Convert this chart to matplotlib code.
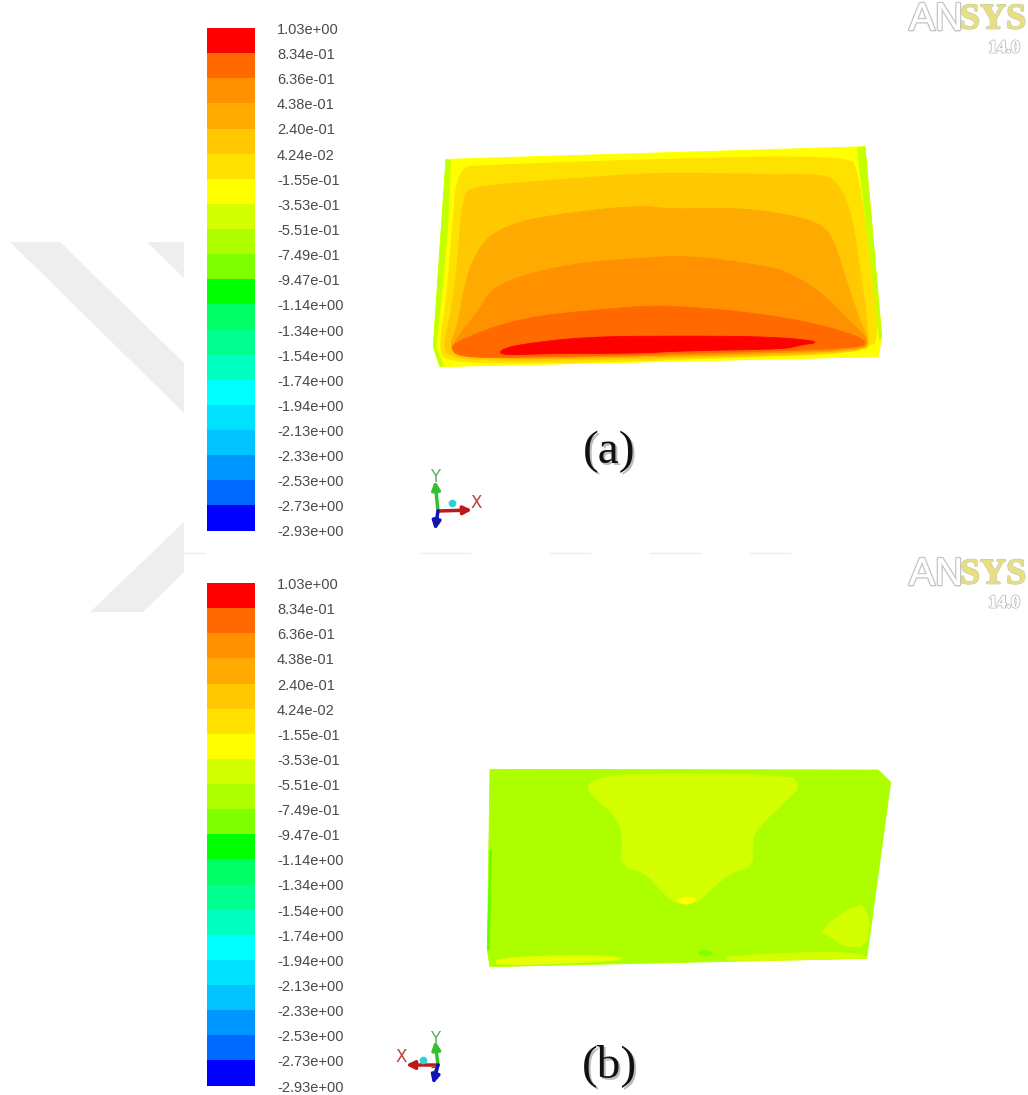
import matplotlib
matplotlib.use("Agg")
import matplotlib.pyplot as plt
import matplotlib.patheffects as pe

# contour legend, top to bottom
level_labels = ["1.03e+00", "8.34e-01", "6.36e-01", "4.38e-01", "2.40e-01", "4.24e-02", "-1.55e-01",
                "-3.53e-01", "-5.51e-01", "-7.49e-01", "-9.47e-01", "-1.14e+00", "-1.34e+00", "-1.54e+00",
                "-1.74e+00", "-1.94e+00", "-2.13e+00", "-2.33e+00", "-2.53e+00", "-2.73e+00", "-2.93e+00"]
band_colors = ["#ff0000", "#ff6900", "#ff9000", "#ffaa00", "#ffc800", "#ffe100", "#ffff00", "#d4ff00", "#adff00",
               "#80ff00", "#00ff00", "#00ff66", "#00ff90", "#00ffc0", "#00ffff", "#00e1ff", "#00c3ff", "#0096ff",
               "#0069ff", "#0000ff"]

a_outline = [(78, 88), (1335, 50), (1385, 620), (1375, 680), (60, 710), (40, 650)]
a_left = [(78, 88), (92, 92), (82, 300), (66, 480), (48, 650), (70, 708), (60, 710), (40, 650)]
a_right = [(1312, 54), (1335, 50), (1385, 620), (1378, 630), (1352, 400)]
a_ffe = [(112, 112), (200, 106), (700, 88), (1285, 76), (1315, 125), (1350, 400), (1375, 600), (1355, 665),
         (700, 692), (300, 700), (75, 695), (58, 650), (80, 500), (97, 300)]
a_ffc = [(128, 188), (180, 168), (430, 148), (700, 128), (1000, 133), (1205, 132), (1255, 158), (1295, 250),
         (1325, 450), (1347, 622), (1340, 670), (800, 683), (300, 693), (95, 685), (68, 650), (92, 560), (113, 400)]
a_ffa = [(90, 640), (113, 590), (133, 470), (158, 390), (203, 318), (300, 273), (450, 248), (660, 226), (750, 238),
         (900, 233), (1050, 243), (1205, 278), (1245, 340), (1275, 440), (1315, 560), (1345, 627), (1335, 664),
         (800, 678), (300, 688), (105, 677)]
a_ff9 = [(98, 640), (178, 540), (213, 478), (300, 438), (450, 403), (600, 388), (810, 376), (1000, 403), (1100, 423),
         (1205, 488), (1295, 580), (1345, 627), (1330, 660), (800, 675), (300, 684), (105, 675)]
a_ff6 = [(90, 650), (128, 628), (228, 588), (350, 558), (500, 543), (700, 525), (900, 538), (1100, 563), (1250, 598),
         (1340, 630), (1325, 655), (800, 670), (300, 682), (115, 682)]
a_red = [(240, 660), (300, 643), (500, 620), (800, 618), (1050, 620), (1210, 635), (1130, 647), (1100, 657),
         (800, 662), (650, 670), (400, 670), (245, 676)]

b_outline = [(60, 58), (1225, 60), (1262, 97), (1190, 625), (60, 650), (52, 600)]
b_center = [(350, 110), (380, 85), (500, 70), (960, 75), (990, 110), (950, 150), (860, 235), (845, 280), (850, 345),
            (780, 370), (720, 420), (680, 460), (620, 460), (580, 430), (530, 370), (450, 345), (460, 260),
            (440, 200), (370, 140)]
b_spot = [(615, 445), (680, 440), (670, 458), (640, 465)]
b_corner = [(1045, 545), (1165, 455), (1200, 500), (1190, 590), (1120, 590), (1085, 560)]
b_edge_left = [(80, 625), (300, 615), (450, 620), (450, 632), (80, 648)]
b_edge_right = [(770, 618), (1100, 604), (1188, 618), (1188, 625), (770, 634)]
b_green = [(680, 608), (705, 600), (735, 610), (700, 618)]
b_left_green = [(60, 300), (64, 300), (58, 600), (52, 600)]

fig = plt.figure(figsize=(10.28, 10.95), dpi=100)
ax = fig.add_axes([0, 0, 1, 1])
ax.set_xlim(0, 1028)
ax.set_ylim(1095, 0)
ax.axis("off")


def rounded(pts, n=2):
    # corner cutting, the contours in the picture have no sharp corners
    for _ in range(n):
        new = []
        for i, p in enumerate(pts):
            q = pts[(i + 1) % len(pts)]
            new.append((0.75 * p[0] + 0.25 * q[0], 0.75 * p[1] + 0.25 * q[1]))
            new.append((0.25 * p[0] + 0.75 * q[0], 0.25 * p[1] + 0.75 * q[1]))
        pts = new
    return pts


def crop_fill(pts, x0, y0, color, smooth=2):
    pts = rounded(pts, smooth)
    xs = [x0 + p[0] / 3 for p in pts]
    ys = [y0 + p[1] / 3 for p in pts]
    ax.fill(xs, ys, color=color, lw=0.6, zorder=3)


# watermark behind everything
for shape in [[(10, 242), (60, 242), (184, 363), (184, 413)],
              [(147, 242), (184, 242), (184, 278)],
              [(184, 522), (90, 612), (143, 612), (184, 572)]]:
    ax.fill([p[0] for p in shape], [p[1] for p in shape], color="#eeeeee", lw=0, zorder=1)
for x1, x2 in [(184, 204), (420, 470), (550, 590), (650, 700), (750, 790)]:
    ax.plot([x1, x2], [553, 553], color="#eeeeee", lw=1, zorder=1)

# colour legends
for top in [28, 583]:
    step = 502.5 / len(band_colors)
    for i, c in enumerate(band_colors):
        ax.bar(231, step + 0.3, width=48, bottom=top + i * step, color=c, lw=0, zorder=2)
    for i, lab in enumerate(level_labels):
        ax.text(277, top + 2 + i * step, lab, fontsize=10.5, color="#4a4a4a",
                family="Liberation Sans", va="center", ha="left", zorder=5)

# panel (a)
crop_fill(a_outline, 420, 130, "#ffff00", smooth=0)
crop_fill(a_left, 420, 130, "#c4ff00", smooth=0)
crop_fill(a_right, 420, 130, "#c4ff00", smooth=0)
for pts, c in [(a_ffe, "#ffe100"), (a_ffc, "#ffc800"), (a_ffa, "#ffaa00"), (a_ff9, "#ff9000"),
               (a_ff6, "#ff6900"), (a_red, "#ff0000")]:
    crop_fill(pts, 420, 130, c)

# panel (b)
crop_fill(b_outline, 470, 750, "#adff00", smooth=0)
crop_fill(b_center, 470, 750, "#d4ff00", smooth=1)
crop_fill(b_corner, 470, 750, "#d4ff00", smooth=1)
crop_fill(b_spot, 470, 750, "#ffff00")
crop_fill(b_edge_left, 470, 750, "#e8ff00", smooth=1)
crop_fill(b_edge_right, 470, 750, "#d4ff00", smooth=1)
crop_fill(b_green, 470, 750, "#80ff00")
crop_fill(b_left_green, 470, 750, "#60ff00", smooth=0)

# panel letters, slight shadow like the pasted text box
for lab, y in [("(a)", 452), ("(b)", 1066)]:
    ax.text(611, y + 2, lab, fontsize=34, family="Liberation Serif", color="#bbbbbb", ha="center", va="center", zorder=5)
    ax.text(609, y, lab, fontsize=34, family="Liberation Serif", color="#111111", ha="center", va="center", zorder=6)

# ANSYS logos
for dy in [0, 555]:
    ax.text(936, 20 + dy, "AN", fontsize=28, family="Liberation Sans", color="white", ha="center", va="center",
            zorder=5, path_effects=[pe.withStroke(linewidth=2, foreground="#c4c4c4"), pe.Normal()])
    ax.text(993, 20 + dy, "SYS", fontsize=26, family="Liberation Serif", weight="bold", color="#e8e080", ha="center",
            va="center", zorder=5, path_effects=[pe.withStroke(linewidth=1.2, foreground="#c8c8b0"), pe.Normal()])
    ax.text(1004, 48 + dy, "14.0", fontsize=13, family="Liberation Serif", weight="bold", color="white", ha="center",
            va="center", zorder=5, path_effects=[pe.withStroke(linewidth=1.4, foreground="#c0c0c0"), pe.Normal()])

# axis triads
triads = [
    {"o": (438, 511), "y": (435, 481), "x": (472, 510), "z": (435, 530), "dot": (452, 503),
     "ylab": (435, 477), "xlab": (476, 503), "zlab": (436, 522)},
    {"o": (438, 1065), "y": (435, 1041), "x": (406, 1065), "z": (433, 1084), "dot": (423, 1060),
     "ylab": (435, 1039), "xlab": (401, 1057), "zlab": (434, 1072)},
]
for t in triads:
    for end, col in [(t["y"], "#30c030"), (t["x"], "#c01818"), (t["z"], "#1010c0")]:
        ax.annotate("", xy=end, xytext=t["o"], zorder=5,
                    arrowprops=dict(arrowstyle="-|>", color=col, lw=2.5, mutation_scale=12, shrinkA=0, shrinkB=0))
    ax.plot(*t["dot"], "o", color="#30d0d0", ms=4.5, zorder=5)
    ax.text(*t["ylab"], "Y", fontsize=12, color="#60b060", ha="center", va="center", zorder=6)
    ax.text(*t["xlab"], "X", fontsize=12, color="#b84040", ha="center", va="center", zorder=6)
    ax.text(*t["zlab"], "Z", fontsize=7, color="#202080", ha="center", va="center", zorder=6)

fig.savefig("out.png", dpi=100)
